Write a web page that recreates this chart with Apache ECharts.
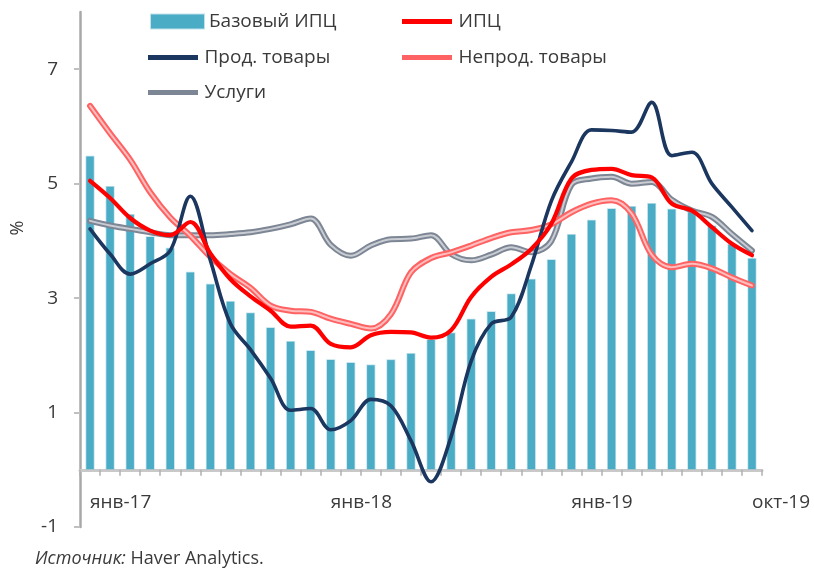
<!DOCTYPE html>
<html>
<head>
<meta charset="utf-8">
<script src="https://cdn.jsdelivr.net/npm/echarts@6/dist/echarts.min.js"></script>
<style>
  html, body { margin: 0; padding: 0; background: #ffffff; }
  #chart { width: 814px; height: 578px; }
</style>
</head>
<body>
<div id="chart"></div>
<script>
// Monthly categories, Jan 2017 – Oct 2019
const months = [
  'янв-17','фев-17','мар-17','апр-17','май-17','июн-17','июл-17','авг-17','сен-17','окт-17','ноя-17','дек-17',
  'янв-18','фев-18','мар-18','апр-18','май-18','июн-18','июл-18','авг-18','сен-18','окт-18','ноя-18','дек-18',
  'янв-19','фев-19','мар-19','апр-19','май-19','июн-19','июл-19','авг-19','сен-19','окт-19'
];

// Core CPI, % y/y (bars)
const coreCpi = [5.49, 4.96, 4.47, 4.08, 3.88, 3.46, 3.25, 2.95, 2.75, 2.49, 2.25, 2.09,
  1.93, 1.88, 1.84, 1.93, 2.04, 2.28, 2.40, 2.64, 2.77, 3.08, 3.34, 3.68,
  4.12, 4.37, 4.57, 4.61, 4.66, 4.56, 4.51, 4.27, 3.95, 3.70];

// Headline CPI
const cpi = [5.05, 4.75, 4.40, 4.18, 4.10, 4.33, 3.78, 3.33, 3.03, 2.78, 2.50, 2.52,
  2.20, 2.14, 2.35, 2.41, 2.40, 2.31, 2.44, 3.02, 3.37, 3.59, 3.86, 4.30,
  5.09, 5.24, 5.26, 5.15, 5.11, 4.65, 4.53, 4.24, 3.95, 3.75];

// Food
const food = [4.21, 3.77, 3.42, 3.60, 3.83, 4.78, 3.66, 2.55, 2.10, 1.60, 1.04, 1.07,
  0.70, 0.86, 1.23, 1.12, 0.51, -0.21, 0.58, 1.90, 2.55, 2.67, 3.57, 4.70,
  5.38, 5.94, 5.93, 5.90, 6.42, 5.49, 5.55, 5.00, 4.59, 4.18];

// Non-food goods
const nonFood = [6.36, 5.88, 5.42, 4.85, 4.41, 4.09, 3.72, 3.42, 3.18, 2.87, 2.78, 2.76,
  2.64, 2.55, 2.47, 2.72, 3.45, 3.70, 3.80, 3.92, 4.05, 4.15, 4.19, 4.29,
  4.50, 4.65, 4.71, 4.48, 3.76, 3.54, 3.60, 3.52, 3.36, 3.22];

// Services
const services = [4.35, 4.27, 4.21, 4.15, 4.10, 4.10, 4.10, 4.12, 4.15, 4.21, 4.29, 4.39,
  3.93, 3.74, 3.92, 4.03, 4.04, 4.10, 3.77, 3.66, 3.76, 3.89, 3.80, 4.00,
  4.98, 5.09, 5.12, 5.00, 5.03, 4.72, 4.53, 4.42, 4.12, 3.83];

const yTicks = [-1, 1, 3, 5, 7];
const shownMonths = [0, 12, 24, 33];

const FONT = '"Open Sans", "Liberation Sans", sans-serif';
const TEXT = '#3a3a3a';
const LINE_ICON = 'path://M0,0H10V1H0Z';

const chart = echarts.init(document.getElementById('chart'), null, { renderer: 'canvas' });

const legendBase = {
  orient: 'horizontal',
  itemWidth: 53,
  itemHeight: 5,
  selectedMode: false,
  textStyle: { fontFamily: FONT, fontSize: 19, color: TEXT },
  padding: 0
};

function legendAt(name, icon, h, left, top) {
  return Object.assign({}, legendBase, {
    data: [{ name: name, icon: icon }], itemHeight: h, left: left, top: top
  });
}

function line(name, data, color, width, z) {
  return {
    name: name, type: 'line', data: data, symbol: 'none', smooth: 0.35, z: z,
    lineStyle: { color: color, width: width, cap: 'round', join: 'round' },
    itemStyle: { color: color },
    emphasis: { disabled: true }
  };
}

chart.setOption({
  animation: false,
  backgroundColor: '#ffffff',
  grid: { left: 80, right: 52, top: 12, bottom: 51, containLabel: false },
  legend: [
    legendAt('Базовый ИПЦ', 'rect', 14, 150, 12),
    legendAt('ИПЦ', LINE_ICON, 5, 402, 12),
    legendAt('Прод. товары', LINE_ICON, 5, 148, 48),
    legendAt('Непрод. товары', LINE_ICON, 5, 402, 48),
    legendAt('Услуги', LINE_ICON, 5, 148, 83)
  ],
  xAxis: [
    {
      // axis line and ticks sit on the zero level
      type: 'category',
      data: months,
      boundaryGap: true,
      axisLine: { onZero: true, lineStyle: { color: '#c9c9c9', width: 3 } },
      axisTick: { show: true, interval: 0, length: 6, lineStyle: { color: '#b0b0b0', width: 1.5 } },
      axisLabel: { show: false },
      splitLine: { show: false }
    },
    {
      // month labels placed just under the zero line
      type: 'category',
      data: months,
      position: 'bottom',
      offset: -58,
      boundaryGap: true,
      axisLine: { show: false },
      axisTick: { show: false },
      axisLabel: {
        interval: function (i) { return shownMonths.indexOf(i) >= 0; },
        align: 'left',
        margin: 24,
        fontFamily: FONT, fontSize: 19, color: TEXT
      },
      splitLine: { show: false }
    }
  ],
  yAxis: {
    type: 'value',
    min: -1, max: 8, interval: 2,
    axisLine: { show: true, lineStyle: { color: '#a8a8a8', width: 2.5 } },
    axisTick: { show: true, length: 6, customValues: yTicks, lineStyle: { color: '#c0c0c0', width: 2 } },
    axisLabel: { customValues: yTicks, margin: 22, fontFamily: FONT, fontSize: 19, color: TEXT },
    splitLine: { show: false }
  },
  series: [
    {
      name: 'Базовый ИПЦ', type: 'bar', data: coreCpi, barWidth: 9, z: 1,
      itemStyle: { color: '#4bacc6', borderColor: 'rgba(75,172,198,0.35)', borderWidth: 1.5 },
      emphasis: { disabled: true }
    },
    line('Услуги', services, '#7d8694', 6, 2),
    line('Услуги', services, '#c9ccd3', 2, 3),
    line('Непрод. товары', nonFood, '#ff6262', 6, 4),
    line('Непрод. товары', nonFood, '#ffbdbd', 2, 5),
    line('Прод. товары', food, '#1b365f', 3.6, 6),
    line('ИПЦ', cpi, '#ff0000', 4.2, 7)
  ],
  graphic: [
    {
      type: 'text', x: 18, y: 228, rotation: Math.PI / 2,
      style: { text: '%', fontFamily: FONT, fontSize: 18, fill: TEXT, align: 'center', verticalAlign: 'middle' }
    },
    {
      type: 'text', left: 35, top: 550,
      style: {
        text: '{i|Источник:} Haver Analytics.',
        fontFamily: FONT, fontSize: 18, fill: TEXT,
        rich: { i: { fontStyle: 'italic', fontFamily: FONT, fontSize: 18, fill: TEXT } }
      }
    }
  ]
});
</script>
</body>
</html>
